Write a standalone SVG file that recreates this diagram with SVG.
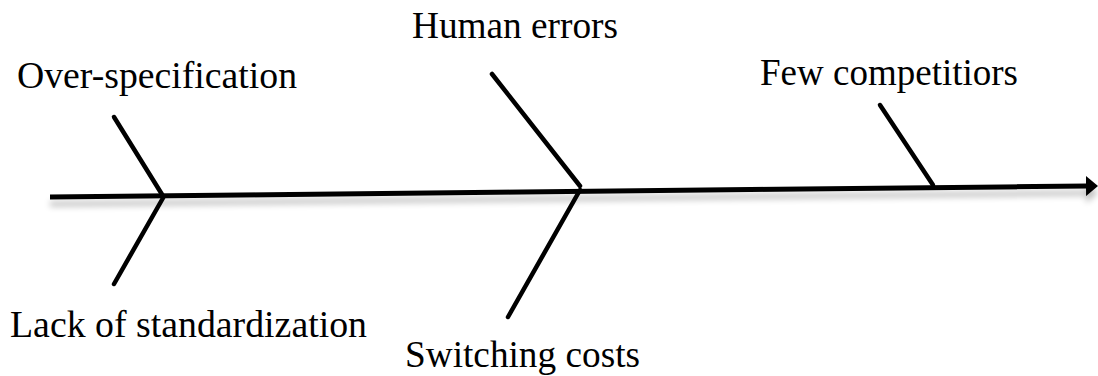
<svg xmlns="http://www.w3.org/2000/svg" width="1098" height="376" viewBox="0 0 1098 376">
  <style>
    .label { font-family: "Liberation Serif", "Times New Roman", serif; font-size: 38px; fill: #000; }
    .bone { stroke: #000; stroke-width: 4.5; stroke-linecap: round; fill: none; }
    .spine { stroke: #000; stroke-width: 5; stroke-linecap: butt; fill: none; }
  </style>
  <defs>
    <filter id="shadow" x="-5%" y="-200%" width="110%" height="600%">
      <feGaussianBlur in="SourceAlpha" stdDeviation="3"/>
      <feOffset dx="0" dy="7" result="blur"/>
      <feComponentTransfer><feFuncA type="linear" slope="0.25"/></feComponentTransfer>
      <feMerge><feMergeNode/><feMergeNode in="SourceGraphic"/></feMerge>
    </filter>
    <marker id="arrow" viewBox="0 0 12 20" refX="2" refY="10" markerWidth="12" markerHeight="20" markerUnits="userSpaceOnUse" orient="auto">
      <path d="M0,0 L12,10 L0,20 Z" fill="#000"/>
    </marker>
  </defs>
  <rect width="1098" height="376" fill="#fff"/>

  <!-- spine and bones -->
  <g id="connectors">
    <line class="spine" x1="50" y1="197" x2="1088" y2="186" marker-end="url(#arrow)" filter="url(#shadow)"/>
    <line class="bone" x1="114" y1="117" x2="163" y2="196"/>
    <line class="bone" x1="163" y1="198" x2="114" y2="284"/>
    <line class="bone" x1="492" y1="74" x2="580" y2="186"/>
    <line class="bone" x1="580" y1="190" x2="508" y2="317"/>
    <line class="bone" x1="880" y1="105" x2="933" y2="185"/>
  </g>

  <!-- cause labels -->
  <g id="over-specification">
    <text class="label" x="17" y="88" textLength="280" lengthAdjust="spacingAndGlyphs">Over-specification</text>
  </g>
  <g id="lack-of-standardization">
    <text class="label" x="10" y="337" textLength="357" lengthAdjust="spacingAndGlyphs">Lack of standardization</text>
  </g>
  <g id="human-errors">
    <text class="label" x="412" y="38" textLength="206" lengthAdjust="spacingAndGlyphs">Human errors</text>
  </g>
  <g id="switching-costs">
    <text class="label" x="405" y="367" textLength="235" lengthAdjust="spacingAndGlyphs">Switching costs</text>
  </g>
  <g id="few-competitiors">
    <text class="label" x="760" y="85" textLength="258" lengthAdjust="spacingAndGlyphs">Few competitiors</text>
  </g>
</svg>
